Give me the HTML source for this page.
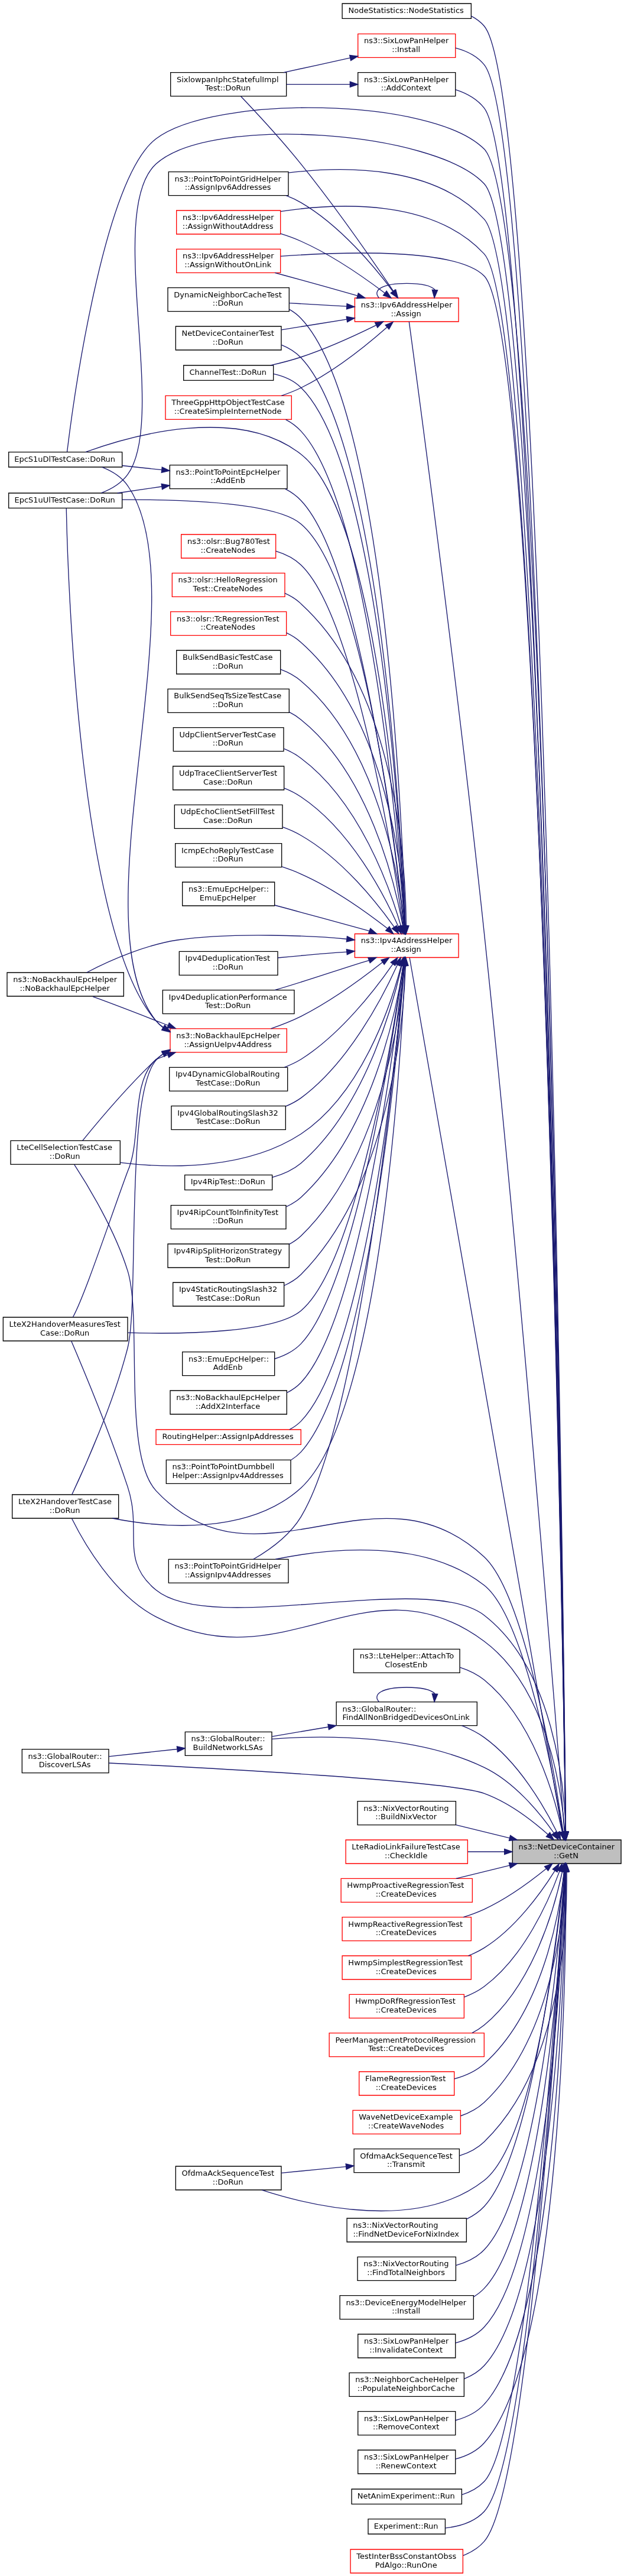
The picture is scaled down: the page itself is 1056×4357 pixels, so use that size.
<!DOCTYPE html>
<html><head><meta charset="utf-8"><title>ns3::NetDeviceContainer::GetN</title>
<style>
html,body{margin:0;padding:0;background:#fff;}
body{width:1056px;height:4357px;overflow:hidden;position:relative;}
svg{display:block;position:absolute;left:0;top:0;will-change:transform;}
</style></head><body>
<svg width="1057.33" height="4358.00" viewBox="0.00 0.00 793.00 3268.50">
<g id="graph0" class="graph" transform="scale(1 1) rotate(0) translate(4 3264.5)">
<polygon fill="white" stroke="none" points="-4,4 -4,-3264.5 789,-3264.5 789,4 -4,4"/>
<g id="node1" class="node">
<polygon fill="#bfbfbf" stroke="black" points="646.44,-900.5 646.44,-930.5 784.33,-930.5 784.33,-900.5 646.44,-900.5"/>
<text text-anchor="start" x="654.13" y="-918.5" font-family="DejaVu Sans,Liberation Sans,sans-serif" font-size="9.75">ns3::NetDeviceContainer</text>
<text text-anchor="middle" x="714.58" y="-907.5" font-family="DejaVu Sans,Liberation Sans,sans-serif" font-size="9.75">::GetN</text>
</g>
<g id="node2" class="node">
<polygon fill="white" stroke="black" points="430.35,-3241 430.35,-3260 594.03,-3260 594.03,-3241 430.35,-3241"/>
<text text-anchor="middle" x="511.41" y="-3248" font-family="DejaVu Sans,Liberation Sans,sans-serif" font-size="9.75">NodeStatistics::NodeStatistics</text>
</g>
<g id="edge1" class="edge">
<path fill="none" stroke="midnightblue" d="M714.08,-940.63C711.58,-1185.54 689.20,-3140.08 610.50,-3231.5 605.89,-3236.85 600.26,-3240.98 594.06,-3244.14"/>
<polygon fill="midnightblue" stroke="midnightblue" points="717.58,-940.6 714.19,-930.56 710.58,-940.53 717.58,-940.6"/>
</g>
<g id="node3" class="node">
<polygon fill="white" stroke="black" points="450.30,-3142.5 450.30,-3172.5 574.06,-3172.5 574.06,-3142.5 450.30,-3142.5"/>
<text text-anchor="start" x="457.99" y="-3160.5" font-family="DejaVu Sans,Liberation Sans,sans-serif" font-size="9.75">ns3::SixLowPanHelper</text>
<text text-anchor="middle" x="511.41" y="-3149.5" font-family="DejaVu Sans,Liberation Sans,sans-serif" font-size="9.75">::AddContext</text>
</g>
<g id="edge2" class="edge">
<path fill="none" stroke="midnightblue" d="M713.97,-940.9C710.44,-1180.51 680.90,-3036.57 610.50,-3127.5 601.50,-3139.12 588.12,-3146.35 574.12,-3150.83"/>
<polygon fill="midnightblue" stroke="midnightblue" points="717.47,-940.78 714.11,-930.73 710.47,-940.67 717.47,-940.78"/>
</g>
<g id="node5" class="node">
<polygon fill="white" stroke="red" points="446.31,-2856.5 446.31,-2886.5 578.05,-2886.5 578.05,-2856.5 446.31,-2856.5"/>
<text text-anchor="start" x="453.99" y="-2874.5" font-family="DejaVu Sans,Liberation Sans,sans-serif" font-size="9.75">ns3::Ipv6AddressHelper</text>
<text text-anchor="middle" x="511.41" y="-2863.5" font-family="DejaVu Sans,Liberation Sans,sans-serif" font-size="9.75">::Assign</text>
</g>
<g id="edge4" class="edge">
<path fill="none" stroke="midnightblue" d="M712.40,-940.68C702.85,-1064.86 659.00,-1624.41 610.50,-2081.5 577.25,-2394.82 526.02,-2776.68 515.21,-2856.46"/>
<polygon fill="midnightblue" stroke="midnightblue" points="715.90,-940.88 713.17,-930.64 708.93,-940.34 715.90,-940.88"/>
</g>
<g id="node6" class="node">
<polygon fill="white" stroke="black" points="210.00,-3016.5 210.00,-3046.5 362.00,-3046.5 362.00,-3016.5 210.00,-3016.5"/>
<text text-anchor="start" x="217.70" y="-3034.5" font-family="DejaVu Sans,Liberation Sans,sans-serif" font-size="9.75">ns3::PointToPointGridHelper</text>
<text text-anchor="middle" x="285.25" y="-3023.5" font-family="DejaVu Sans,Liberation Sans,sans-serif" font-size="9.75">::AssignIpv6Addresses</text>
</g>
<g id="edge59" class="edge">
<path fill="none" stroke="midnightblue" d="M713.97,-940.75C710.61,-1171.45 683.01,-2907.2 610.50,-2986.5 548.85,-3053.93 436.85,-3054.34 362.23,-3045.37"/>
<polygon fill="midnightblue" stroke="midnightblue" points="717.48,-940.69 714.12,-930.64 710.48,-940.59 717.48,-940.69"/>
</g>
<g id="node7" class="node">
<polygon fill="white" stroke="red" points="220.00,-2967.5 220.00,-2997.5 352.00,-2997.5 352.00,-2967.5 220.00,-2967.5"/>
<text text-anchor="start" x="227.70" y="-2985.5" font-family="DejaVu Sans,Liberation Sans,sans-serif" font-size="9.75">ns3::Ipv6AddressHelper</text>
<text text-anchor="middle" x="285.25" y="-2974.5" font-family="DejaVu Sans,Liberation Sans,sans-serif" font-size="9.75">::AssignWithoutAddress</text>
</g>
<g id="edge60" class="edge">
<path fill="none" stroke="midnightblue" d="M713.95,-940.91C710.44,-1169.52 682.02,-2865.54 610.50,-2942.5 545.64,-3012.3 426.37,-3007.63 352.20,-2996.23"/>
<polygon fill="midnightblue" stroke="midnightblue" points="717.46,-940.65 714.11,-930.6 710.46,-940.54 717.46,-940.65"/>
</g>
<g id="node8" class="node">
<polygon fill="white" stroke="red" points="220.00,-2918.5 220.00,-2948.5 352.00,-2948.5 352.00,-2918.5 220.00,-2918.5"/>
<text text-anchor="start" x="227.70" y="-2936.5" font-family="DejaVu Sans,Liberation Sans,sans-serif" font-size="9.75">ns3::Ipv6AddressHelper</text>
<text text-anchor="middle" x="285.25" y="-2925.5" font-family="DejaVu Sans,Liberation Sans,sans-serif" font-size="9.75">::AssignWithoutOnLink</text>
</g>
<g id="edge61" class="edge">
<path fill="none" stroke="midnightblue" d="M713.97,-940.94C710.60,-1168.05 683.43,-2840.97 610.50,-2914.5 575.66,-2949.63 436.26,-2945.48 352.27,-2939.42"/>
<polygon fill="midnightblue" stroke="midnightblue" points="717.47,-940.74 714.12,-930.69 710.47,-940.63 717.47,-940.74"/>
</g>
<g id="node13" class="node">
<polygon fill="white" stroke="red" points="446.31,-2049.90 446.31,-2079.90 578.05,-2079.90 578.05,-2049.90 446.31,-2049.90"/>
<text text-anchor="start" x="453.99" y="-2067.90" font-family="DejaVu Sans,Liberation Sans,sans-serif" font-size="9.75">ns3::Ipv4AddressHelper</text>
<text text-anchor="middle" x="511.41" y="-2056.90" font-family="DejaVu Sans,Liberation Sans,sans-serif" font-size="9.75">::Assign</text>
</g>
<g id="edge14" class="edge">
<path fill="none" stroke="midnightblue" d="M709.87,-940.78C682.48,-1096.32 537.41,-1925.59 515.85,-2049.69"/>
<polygon fill="midnightblue" stroke="midnightblue" points="713.34,-941.22 711.63,-930.77 706.46,-940.01 713.34,-941.22"/>
</g>
<g id="node18" class="node">
<polygon fill="white" stroke="black" points="7.00,-2672 7.00,-2691 151.00,-2691 151.00,-2672 7.00,-2672"/>
<text text-anchor="middle" x="78.25" y="-2679" font-family="DejaVu Sans,Liberation Sans,sans-serif" font-size="9.75">EpcS1uDlTestCase::DoRun</text>
</g>
<g id="edge75" class="edge">
<path fill="none" stroke="midnightblue" d="M714.07,-940.78C711.53,-1177.32 689.48,-2995.78 610.50,-3075.5 545.30,-3141.31 267.87,-3144.52 194.00,-3088.5 126.62,-3037.4 88.16,-2748.36 81.16,-2691.29"/>
<polygon fill="midnightblue" stroke="midnightblue" points="717.57,-940.76 714.18,-930.73 710.57,-940.69 717.57,-940.76"/>
</g>
<g id="node19" class="node">
<polygon fill="white" stroke="black" points="7.00,-2620 7.00,-2639 151.00,-2639 151.00,-2620 7.00,-2620"/>
<text text-anchor="middle" x="78.25" y="-2627" font-family="DejaVu Sans,Liberation Sans,sans-serif" font-size="9.75">EpcS1uUlTestCase::DoRun</text>
</g>
<g id="edge76" class="edge">
<path fill="none" stroke="midnightblue" d="M714.02,-940.95C711.01,-1175.33 685.82,-2951.56 610.50,-3031.5 546.89,-3099.01 262.56,-3119.09 194.00,-3056.5 129.06,-2997.23 209.86,-2733.5 158.00,-2662.5 149.85,-2651.34 137.17,-2643.92 124.38,-2639.01"/>
<polygon fill="midnightblue" stroke="midnightblue" points="717.52,-940.73 714.15,-930.69 710.52,-940.64 717.52,-940.73"/>
</g>
<g id="node23" class="node">
<polygon fill="white" stroke="black" points="210.00,-1256.5 210.00,-1286.5 362.00,-1286.5 362.00,-1256.5 210.00,-1256.5"/>
<text text-anchor="start" x="217.70" y="-1274.5" font-family="DejaVu Sans,Liberation Sans,sans-serif" font-size="9.75">ns3::PointToPointGridHelper</text>
<text text-anchor="middle" x="285.25" y="-1263.5" font-family="DejaVu Sans,Liberation Sans,sans-serif" font-size="9.75">::AssignIpv4Addresses</text>
</g>
<g id="edge58" class="edge">
<path fill="none" stroke="midnightblue" d="M710.34,-940.74C698.48,-1012.29 661.13,-1213.83 610.50,-1253.5 534.87,-1312.77 416.28,-1300.99 345.65,-1286.56"/>
<polygon fill="midnightblue" stroke="midnightblue" points="713.80,-941.22 711.96,-930.79 706.90,-940.1 713.80,-941.22"/>
</g>
<g id="node25" class="node">
<polygon fill="white" stroke="black" points="9.50,-1787.5 9.50,-1817.5 148.50,-1817.5 148.50,-1787.5 9.50,-1787.5"/>
<text text-anchor="start" x="17.20" y="-1805.5" font-family="DejaVu Sans,Liberation Sans,sans-serif" font-size="9.75">LteCellSelectionTestCase</text>
<text text-anchor="middle" x="78.25" y="-1794.5" font-family="DejaVu Sans,Liberation Sans,sans-serif" font-size="9.75">::DoRun</text>
</g>
<g id="edge77" class="edge">
<path fill="none" stroke="midnightblue" d="M710.74,-940.97C699.51,-1017.15 662.62,-1240.94 610.50,-1289.5 472.31,-1418.25 322.89,-1235.19 194.00,-1373.5 151.38,-1419.23 176.71,-1592.85 158.00,-1652.5 141.57,-1704.87 107.53,-1760.77 90.36,-1787.1"/>
<polygon fill="midnightblue" stroke="midnightblue" points="714.24,-941.24 712.21,-930.84 707.32,-940.24 714.24,-941.24"/>
</g>
<g id="node26" class="node">
<polygon fill="white" stroke="black" points="0.00,-1563.53 0.00,-1593.53 158.00,-1593.53 158.00,-1563.53 0.00,-1563.53"/>
<text text-anchor="start" x="7.70" y="-1581.53" font-family="DejaVu Sans,Liberation Sans,sans-serif" font-size="9.75">LteX2HandoverMeasuresTest</text>
<text text-anchor="middle" x="78.25" y="-1570.53" font-family="DejaVu Sans,Liberation Sans,sans-serif" font-size="9.75">Case::DoRun</text>
</g>
<g id="edge78" class="edge">
<path fill="none" stroke="midnightblue" d="M714.17,-940.85C712.28,-1000.06 698.52,-1147.51 610.50,-1215.50 537.02,-1272.25 265.70,-1188.37 194.00,-1247.50 147.42,-1285.92 177.00,-1321.18 158.00,-1378.50 134.73,-1448.72 100.65,-1530.29 86.52,-1563.39"/>
<polygon fill="midnightblue" stroke="midnightblue" points="717.68,-940.63 714.40,-930.55 710.68,-940.47 717.68,-940.63"/>
</g>
<g id="node27" class="node">
<polygon fill="white" stroke="black" points="11.50,-1338.5 11.50,-1368.5 146.50,-1368.5 146.50,-1338.5 11.50,-1338.5"/>
<text text-anchor="start" x="19.20" y="-1356.5" font-family="DejaVu Sans,Liberation Sans,sans-serif" font-size="9.75">LteX2HandoverTestCase</text>
<text text-anchor="middle" x="78.25" y="-1345.5" font-family="DejaVu Sans,Liberation Sans,sans-serif" font-size="9.75">::DoRun</text>
</g>
<g id="edge79" class="edge">
<path fill="none" stroke="midnightblue" d="M712.98,-940.72C708.59,-995.2 689.89,-1123.69 610.50,-1182.5 461.36,-1293.01 358.77,-1127.55 194.00,-1213.5 139.81,-1241.77 102.03,-1308.2 87.10,-1338.26"/>
<polygon fill="midnightblue" stroke="midnightblue" points="716.49,-940.79 713.70,-930.56 709.50,-940.29 716.49,-940.79"/>
</g>
<g id="node45" class="node">
<polygon fill="white" stroke="black" points="444.82,-1142.5 444.82,-1172.5 579.55,-1172.5 579.55,-1142.5 444.82,-1142.5"/>
<text text-anchor="start" x="452.50" y="-1160.5" font-family="DejaVu Sans,Liberation Sans,sans-serif" font-size="9.75">ns3::LteHelper::AttachTo</text>
<text text-anchor="middle" x="511.41" y="-1149.5" font-family="DejaVu Sans,Liberation Sans,sans-serif" font-size="9.75">ClosestEnb</text>
</g>
<g id="edge62" class="edge">
<path fill="none" stroke="midnightblue" d="M709.66,-940.62C699.83,-986.29 672.56,-1082.87 610.50,-1133.5 601.59,-1140.77 590.81,-1145.88 579.71,-1149.47"/>
<polygon fill="midnightblue" stroke="midnightblue" points="713.12,-941.17 711.70,-930.67 706.27,-939.76 713.12,-941.17"/>
</g>
<g id="node46" class="node">
<polygon fill="white" stroke="black" points="231.00,-1037.5 231.00,-1067.5 341.00,-1067.5 341.00,-1037.5 231.00,-1037.5"/>
<text text-anchor="start" x="238.70" y="-1055.5" font-family="DejaVu Sans,Liberation Sans,sans-serif" font-size="9.75">ns3::GlobalRouter::</text>
<text text-anchor="middle" x="285.25" y="-1044.5" font-family="DejaVu Sans,Liberation Sans,sans-serif" font-size="9.75">BuildNetworkLSAs</text>
</g>
<g id="edge63" class="edge">
<path fill="none" stroke="midnightblue" d="M699.05,-939.23C681.19,-964.71 649.12,-1004.01 610.50,-1022.5 523.23,-1064.29 407.79,-1063.55 341.03,-1058.51"/>
<polygon fill="midnightblue" stroke="midnightblue" points="702.02,-941.09 704.76,-930.86 696.25,-937.14 702.02,-941.09"/>
</g>
<g id="node47" class="node">
<polygon fill="white" stroke="black" points="24.00,-1015.5 24.00,-1045.5 134.00,-1045.5 134.00,-1015.5 24.00,-1015.5"/>
<text text-anchor="start" x="31.70" y="-1033.5" font-family="DejaVu Sans,Liberation Sans,sans-serif" font-size="9.75">ns3::GlobalRouter::</text>
<text text-anchor="middle" x="78.25" y="-1022.5" font-family="DejaVu Sans,Liberation Sans,sans-serif" font-size="9.75">DiscoverLSAs</text>
</g>
<g id="edge74" class="edge">
<path fill="none" stroke="midnightblue" d="M691.48,-937.43C671.75,-954.9 641.58,-978.22 610.50,-989.5 566.56,-1005.45 260.36,-1021.82 134.11,-1027.97"/>
<polygon fill="midnightblue" stroke="midnightblue" points="693.96,-939.9 699.02,-930.6 689.27,-934.71 693.96,-939.9"/>
</g>
<g id="node48" class="node">
<polygon fill="white" stroke="black" points="449.80,-949.5 449.80,-979.5 574.56,-979.5 574.56,-949.5 449.80,-949.5"/>
<text text-anchor="start" x="457.49" y="-967.5" font-family="DejaVu Sans,Liberation Sans,sans-serif" font-size="9.75">ns3::NixVectorRouting</text>
<text text-anchor="middle" x="511.41" y="-956.5" font-family="DejaVu Sans,Liberation Sans,sans-serif" font-size="9.75">::BuildNixVector</text>
</g>
<g id="edge65" class="edge">
<path fill="none" stroke="midnightblue" d="M642.88,-932.9C620.62,-938.32 596.28,-944.25 574.77,-949.49"/>
<polygon fill="midnightblue" stroke="midnightblue" points="643.72,-936.3 652.60,-930.53 642.08,-929.5 643.72,-936.3"/>
</g>
<g id="node49" class="node">
<polygon fill="white" stroke="red" points="434.84,-900.5 434.84,-930.5 589.53,-930.5 589.53,-900.5 434.84,-900.5"/>
<text text-anchor="start" x="442.52" y="-918.5" font-family="DejaVu Sans,Liberation Sans,sans-serif" font-size="9.75">LteRadioLinkFailureTestCase</text>
<text text-anchor="middle" x="511.41" y="-907.5" font-family="DejaVu Sans,Liberation Sans,sans-serif" font-size="9.75">::CheckIdle</text>
</g>
<g id="edge66" class="edge">
<path fill="none" stroke="midnightblue" d="M635.88,-915.5C620.75,-915.5 604.92,-915.5 589.85,-915.5"/>
<polygon fill="midnightblue" stroke="midnightblue" points="636.24,-919 646.22,-915.5 636.24,-912 636.24,-919"/>
</g>
<g id="node50" class="node">
<polygon fill="white" stroke="red" points="428.85,-851.5 428.85,-881.5 595.52,-881.5 595.52,-851.5 428.85,-851.5"/>
<text text-anchor="start" x="436.53" y="-869.5" font-family="DejaVu Sans,Liberation Sans,sans-serif" font-size="9.75">HwmpProactiveRegressionTest</text>
<text text-anchor="middle" x="511.41" y="-858.5" font-family="DejaVu Sans,Liberation Sans,sans-serif" font-size="9.75">::CreateDevices</text>
</g>
<g id="edge67" class="edge">
<path fill="none" stroke="midnightblue" d="M642.88,-898.1C620.62,-892.68 596.28,-886.75 574.77,-881.51"/>
<polygon fill="midnightblue" stroke="midnightblue" points="642.08,-901.5 652.60,-900.47 643.72,-894.7 642.08,-901.5"/>
</g>
<g id="node51" class="node">
<polygon fill="white" stroke="red" points="430.35,-802.5 430.35,-832.5 594.03,-832.5 594.03,-802.5 430.35,-802.5"/>
<text text-anchor="start" x="438.03" y="-820.5" font-family="DejaVu Sans,Liberation Sans,sans-serif" font-size="9.75">HwmpReactiveRegressionTest</text>
<text text-anchor="middle" x="511.41" y="-809.5" font-family="DejaVu Sans,Liberation Sans,sans-serif" font-size="9.75">::CreateDevices</text>
</g>
<g id="edge68" class="edge">
<path fill="none" stroke="midnightblue" d="M689.43,-894.08C669.33,-877.79 639.68,-855.96 610.50,-842.5 602.18,-838.66 593.18,-835.35 584.12,-832.5"/>
<polygon fill="midnightblue" stroke="midnightblue" points="687.23,-896.8 697.17,-900.46 691.67,-891.4 687.23,-896.8"/>
</g>
<g id="node52" class="node">
<polygon fill="white" stroke="red" points="430.35,-753.5 430.35,-783.5 594.03,-783.5 594.03,-753.5 430.35,-753.5"/>
<text text-anchor="start" x="438.03" y="-771.5" font-family="DejaVu Sans,Liberation Sans,sans-serif" font-size="9.75">HwmpSimplestRegressionTest</text>
<text text-anchor="middle" x="511.41" y="-760.5" font-family="DejaVu Sans,Liberation Sans,sans-serif" font-size="9.75">::CreateDevices</text>
</g>
<g id="edge69" class="edge">
<path fill="none" stroke="midnightblue" d="M700.28,-891.39C682.79,-863.54 650.31,-818.39 610.50,-793.5 604.28,-789.61 597.49,-786.33 590.47,-783.56"/>
<polygon fill="midnightblue" stroke="midnightblue" points="697.42,-893.42 705.62,-900.11 703.37,-889.76 697.42,-893.42"/>
</g>
<g id="node53" class="node">
<polygon fill="white" stroke="red" points="439.33,-704.5 439.33,-734.5 585.04,-734.5 585.04,-704.5 439.33,-704.5"/>
<text text-anchor="start" x="447.01" y="-722.5" font-family="DejaVu Sans,Liberation Sans,sans-serif" font-size="9.75">HwmpDoRfRegressionTest</text>
<text text-anchor="middle" x="511.41" y="-711.5" font-family="DejaVu Sans,Liberation Sans,sans-serif" font-size="9.75">::CreateDevices</text>
</g>
<g id="edge70" class="edge">
<path fill="none" stroke="midnightblue" d="M706.21,-890.84C692.58,-853.33 661.45,-782.32 610.50,-744.5 602.93,-738.88 594.23,-734.52 585.19,-731.14"/>
<polygon fill="midnightblue" stroke="midnightblue" points="702.99,-892.2 709.59,-900.47 709.58,-889.88 702.99,-892.2"/>
</g>
<g id="node54" class="node">
<polygon fill="white" stroke="red" points="413.89,-655.5 413.89,-685.5 610.50,-685.5 610.50,-655.5 413.89,-655.5"/>
<text text-anchor="start" x="421.57" y="-673.5" font-family="DejaVu Sans,Liberation Sans,sans-serif" font-size="9.75">PeerManagementProtocolRegression</text>
<text text-anchor="middle" x="511.41" y="-662.5" font-family="DejaVu Sans,Liberation Sans,sans-serif" font-size="9.75">Test::CreateDevices</text>
</g>
<g id="edge71" class="edge">
<path fill="none" stroke="midnightblue" d="M709.68,-890.21C699.89,-844.23 672.68,-746.92 610.50,-695.5 605.79,-691.61 600.55,-688.31 595.02,-685.52"/>
<polygon fill="midnightblue" stroke="midnightblue" points="706.31,-891.13 711.71,-900.23 713.16,-889.74 706.31,-891.13"/>
</g>
<g id="node55" class="node">
<polygon fill="white" stroke="red" points="451.80,-606.5 451.80,-636.5 572.56,-636.5 572.56,-606.5 451.80,-606.5"/>
<text text-anchor="start" x="459.48" y="-624.5" font-family="DejaVu Sans,Liberation Sans,sans-serif" font-size="9.75">FlameRegressionTest</text>
<text text-anchor="middle" x="511.41" y="-613.5" font-family="DejaVu Sans,Liberation Sans,sans-serif" font-size="9.75">::CreateDevices</text>
</g>
<g id="edge72" class="edge">
<path fill="none" stroke="midnightblue" d="M712.13,-890.37C706.11,-837.09 684.44,-712.31 610.50,-646.5 599.94,-637.1 586.31,-631.14 572.62,-627.4"/>
<polygon fill="midnightblue" stroke="midnightblue" points="708.66,-890.73 713.17,-900.32 715.62,-890.01 708.66,-890.73"/>
</g>
<g id="node56" class="node">
<polygon fill="white" stroke="red" points="443.82,-557.5 443.82,-587.5 580.55,-587.5 580.55,-557.5 443.82,-557.5"/>
<text text-anchor="start" x="451.50" y="-575.5" font-family="DejaVu Sans,Liberation Sans,sans-serif" font-size="9.75">WaveNetDeviceExample</text>
<text text-anchor="middle" x="511.41" y="-564.5" font-family="DejaVu Sans,Liberation Sans,sans-serif" font-size="9.75">::CreateWaveNodes</text>
</g>
<g id="edge73" class="edge">
<path fill="none" stroke="midnightblue" d="M713.84,-890.09C711.26,-829.94 696.15,-677.88 610.50,-597.5 602.16,-589.67 591.72,-584.22 580.79,-580.43"/>
<polygon fill="midnightblue" stroke="midnightblue" points="710.35,-890.34 714.19,-900.21 717.35,-890.1 710.35,-890.34"/>
</g>
<g id="node57" class="node">
<polygon fill="white" stroke="black" points="219.00,-486.5 219.00,-516.5 353.00,-516.5 353.00,-486.5 219.00,-486.5"/>
<text text-anchor="start" x="226.70" y="-504.5" font-family="DejaVu Sans,Liberation Sans,sans-serif" font-size="9.75">OfdmaAckSequenceTest</text>
<text text-anchor="middle" x="285.25" y="-493.5" font-family="DejaVu Sans,Liberation Sans,sans-serif" font-size="9.75">::DoRun</text>
</g>
<g id="edge80" class="edge">
<path fill="none" stroke="midnightblue" d="M712.03,-890.47C703.90,-808.09 673.55,-547.85 610.50,-498.5 528.30,-434.17 395.16,-464.77 328.20,-486.41"/>
<polygon fill="midnightblue" stroke="midnightblue" points="708.56,-890.84 712.99,-900.45 715.52,-890.17 708.56,-890.84"/>
</g>
<g id="node58" class="node">
<polygon fill="white" stroke="black" points="422.87,-1075.5 422.87,-1105.5 601.51,-1105.5 601.51,-1075.5 422.87,-1075.5"/>
<text text-anchor="start" x="430.55" y="-1093.5" font-family="DejaVu Sans,Liberation Sans,sans-serif" font-size="9.75">ns3::GlobalRouter::</text>
<text text-anchor="middle" x="511.41" y="-1082.5" font-family="DejaVu Sans,Liberation Sans,sans-serif" font-size="9.75">FindAllNonBridgedDevicesOnLink</text>
</g>
<g id="edge81" class="edge">
<path fill="none" stroke="midnightblue" d="M703.15,-939.91C687.12,-972.19 654.65,-1028.7 610.50,-1060.5 601.96,-1066.65 592.13,-1071.57 582.08,-1075.48"/>
<polygon fill="midnightblue" stroke="midnightblue" points="706.38,-941.25 707.58,-930.72 700.08,-938.2 706.38,-941.25"/>
</g>
<g id="node59" class="node">
<polygon fill="white" stroke="black" points="436.33,-420.5 436.33,-450.5 588.04,-450.5 588.04,-420.5 436.33,-420.5"/>
<text text-anchor="start" x="444.02" y="-438.5" font-family="DejaVu Sans,Liberation Sans,sans-serif" font-size="9.75">ns3::NixVectorRouting</text>
<text text-anchor="middle" x="511.41" y="-427.5" font-family="DejaVu Sans,Liberation Sans,sans-serif" font-size="9.75">::FindNetDeviceForNixIndex</text>
</g>
<g id="edge84" class="edge">
<path fill="none" stroke="midnightblue" d="M711.77,-890.09C702.69,-804.52 669.29,-528.75 610.50,-465.5 604.23,-458.76 596.50,-453.52 588.15,-449.45"/>
<polygon fill="midnightblue" stroke="midnightblue" points="708.32,-890.62 712.83,-900.21 715.27,-889.9 708.32,-890.62"/>
</g>
<g id="node60" class="node">
<polygon fill="white" stroke="black" points="449.80,-371.5 449.80,-401.5 574.56,-401.5 574.56,-371.5 449.80,-371.5"/>
<text text-anchor="start" x="457.49" y="-389.5" font-family="DejaVu Sans,Liberation Sans,sans-serif" font-size="9.75">ns3::NixVectorRouting</text>
<text text-anchor="middle" x="511.41" y="-378.5" font-family="DejaVu Sans,Liberation Sans,sans-serif" font-size="9.75">::FindTotalNeighbors</text>
</g>
<g id="edge85" class="edge">
<path fill="none" stroke="midnightblue" d="M712.62,-890.24C705.88,-797.96 678.09,-480.84 610.50,-410.5 600.97,-400.58 588.05,-394.49 574.74,-390.82"/>
<polygon fill="midnightblue" stroke="midnightblue" points="709.15,-890.62 713.34,-900.34 716.12,-890.12 709.15,-890.62"/>
</g>
<g id="node61" class="node">
<polygon fill="white" stroke="black" points="427.36,-322.5 427.36,-352.5 597.02,-352.5 597.02,-322.5 427.36,-322.5"/>
<text text-anchor="start" x="435.04" y="-340.5" font-family="DejaVu Sans,Liberation Sans,sans-serif" font-size="9.75">ns3::DeviceEnergyModelHelper</text>
<text text-anchor="middle" x="511.41" y="-329.5" font-family="DejaVu Sans,Liberation Sans,sans-serif" font-size="9.75">::Install</text>
</g>
<g id="edge86" class="edge">
<path fill="none" stroke="midnightblue" d="M713.11,-890.06C707.90,-791.93 684.27,-439.63 610.50,-361.5 606.56,-357.32 602.00,-353.82 597.08,-350.89"/>
<polygon fill="midnightblue" stroke="midnightblue" points="709.63,-890.44 713.63,-900.24 716.62,-890.08 709.63,-890.44"/>
</g>
<g id="node62" class="node">
<polygon fill="white" stroke="red" points="450.30,-3191.5 450.30,-3221.5 574.06,-3221.5 574.06,-3191.5 450.30,-3191.5"/>
<text text-anchor="start" x="457.99" y="-3209.5" font-family="DejaVu Sans,Liberation Sans,sans-serif" font-size="9.75">ns3::SixLowPanHelper</text>
<text text-anchor="middle" x="511.41" y="-3198.5" font-family="DejaVu Sans,Liberation Sans,sans-serif" font-size="9.75">::Install</text>
</g>
<g id="edge87" class="edge">
<path fill="none" stroke="midnightblue" d="M714.03,-940.81C711.05,-1183.46 685.30,-3091.28 610.50,-3182.5 601.38,-3193.61 588.04,-3200.06 574.13,-3203.68"/>
<polygon fill="midnightblue" stroke="midnightblue" points="717.53,-940.57 714.15,-930.52 710.53,-940.48 717.53,-940.57"/>
</g>
<g id="node63" class="node">
<polygon fill="white" stroke="black" points="450.30,-273.5 450.30,-303.5 574.06,-303.5 574.06,-273.5 450.30,-273.5"/>
<text text-anchor="start" x="457.99" y="-291.5" font-family="DejaVu Sans,Liberation Sans,sans-serif" font-size="9.75">ns3::SixLowPanHelper</text>
<text text-anchor="middle" x="511.41" y="-280.5" font-family="DejaVu Sans,Liberation Sans,sans-serif" font-size="9.75">::InvalidateContext</text>
</g>
<g id="edge89" class="edge">
<path fill="none" stroke="midnightblue" d="M713.54,-890.19C709.79,-786.88 690.55,-398.55 610.50,-312.5 600.95,-302.23 587.78,-296.05 574.21,-292.4"/>
<polygon fill="midnightblue" stroke="midnightblue" points="710.05,-890.45 713.89,-900.32 717.04,-890.21 710.05,-890.45"/>
</g>
<g id="node64" class="node">
<polygon fill="white" stroke="black" points="439.33,-224.5 439.33,-254.5 585.04,-254.5 585.04,-224.5 439.33,-224.5"/>
<text text-anchor="start" x="447.01" y="-242.5" font-family="DejaVu Sans,Liberation Sans,sans-serif" font-size="9.75">ns3::NeighborCacheHelper</text>
<text text-anchor="middle" x="511.41" y="-231.5" font-family="DejaVu Sans,Liberation Sans,sans-serif" font-size="9.75">::PopulateNeighborCache</text>
</g>
<g id="edge90" class="edge">
<path fill="none" stroke="midnightblue" d="M713.90,-890.26C711.54,-781.9 696.84,-357.49 610.50,-263.5 603.66,-256.06 594.94,-250.76 585.51,-247.01"/>
<polygon fill="midnightblue" stroke="midnightblue" points="710.40,-890.35 714.10,-900.28 717.40,-890.21 710.40,-890.35"/>
</g>
<g id="node65" class="node">
<polygon fill="white" stroke="black" points="450.30,-175.5 450.30,-205.5 574.06,-205.5 574.06,-175.5 450.30,-175.5"/>
<text text-anchor="start" x="457.99" y="-193.5" font-family="DejaVu Sans,Liberation Sans,sans-serif" font-size="9.75">ns3::SixLowPanHelper</text>
<text text-anchor="middle" x="511.41" y="-182.5" font-family="DejaVu Sans,Liberation Sans,sans-serif" font-size="9.75">::RemoveContext</text>
</g>
<g id="edge91" class="edge">
<path fill="none" stroke="midnightblue" d="M714.21,-890.22C713.15,-776.84 703.11,-316.43 610.50,-214.5 601.02,-204.06 587.79,-197.82 574.13,-194.17"/>
<polygon fill="midnightblue" stroke="midnightblue" points="710.71,-890.39 714.29,-900.36 717.71,-890.33 710.71,-890.39"/>
</g>
<g id="node66" class="node">
<polygon fill="white" stroke="black" points="450.30,-126.5 450.30,-156.5 574.06,-156.5 574.06,-126.5 450.30,-126.5"/>
<text text-anchor="start" x="457.99" y="-144.5" font-family="DejaVu Sans,Liberation Sans,sans-serif" font-size="9.75">ns3::SixLowPanHelper</text>
<text text-anchor="middle" x="511.41" y="-133.5" font-family="DejaVu Sans,Liberation Sans,sans-serif" font-size="9.75">::RenewContext</text>
</g>
<g id="edge92" class="edge">
<path fill="none" stroke="midnightblue" d="M714.48,-889.99C714.65,-771.43 709.34,-275.34 610.50,-165.5 601.07,-155.01 587.85,-148.76 574.20,-145.11"/>
<polygon fill="midnightblue" stroke="midnightblue" points="710.98,-890.25 714.45,-900.26 717.98,-890.27 710.98,-890.25"/>
</g>
<g id="node67" class="node">
<polygon fill="white" stroke="black" points="442.32,-88 442.32,-107 582.05,-107 582.05,-88 442.32,-88"/>
<text text-anchor="middle" x="511.41" y="-95" font-family="DejaVu Sans,Liberation Sans,sans-serif" font-size="9.75">NetAnimExperiment::Run</text>
</g>
<g id="edge93" class="edge">
<path fill="none" stroke="midnightblue" d="M712.79,-890.35C704.64,-761.01 664.89,-174.53 610.50,-116.5 602.84,-108.33 592.80,-103.08 582.07,-99.8"/>
<polygon fill="midnightblue" stroke="midnightblue" points="709.31,-890.71 713.42,-900.47 716.29,-890.27 709.31,-890.71"/>
</g>
<g id="node68" class="node">
<polygon fill="white" stroke="black" points="463.27,-50 463.27,-69 561.08,-69 561.08,-50 463.27,-50"/>
<text text-anchor="middle" x="511.41" y="-57" font-family="DejaVu Sans,Liberation Sans,sans-serif" font-size="9.75">Experiment::Run</text>
</g>
<g id="edge94" class="edge">
<path fill="none" stroke="midnightblue" d="M712.95,-890.42C705.40,-757.56 667.44,-139.6 610.50,-78.5 597.99,-65.07 579.04,-59.53 561.18,-57.63"/>
<polygon fill="midnightblue" stroke="midnightblue" points="709.45,-890.67 713.51,-900.45 716.44,-890.27 709.45,-890.67"/>
</g>
<g id="node69" class="node">
<polygon fill="white" stroke="red" points="440.82,-0.5 440.82,-30.5 583.54,-30.5 583.54,-0.5 440.82,-0.5"/>
<text text-anchor="start" x="448.51" y="-18.5" font-family="DejaVu Sans,Liberation Sans,sans-serif" font-size="9.75">TestInterBssConstantObss</text>
<text text-anchor="middle" x="511.41" y="-7.5" font-family="DejaVu Sans,Liberation Sans,sans-serif" font-size="9.75">PdAlgo::RunOne</text>
</g>
<g id="edge95" class="edge">
<path fill="none" stroke="midnightblue" d="M712.99,-889.79C705.59,-752.16 667.98,-106.28 610.50,-40.5 603.37,-32.35 594.00,-26.68 583.86,-22.77"/>
<polygon fill="midnightblue" stroke="midnightblue" points="709.51,-890.37 713.54,-900.17 716.50,-890 709.51,-890.37"/>
</g>
<g id="node70" class="node">
<polygon fill="white" stroke="black" points="445.31,-508.5 445.31,-538.5 579.05,-538.5 579.05,-508.5 445.31,-508.5"/>
<text text-anchor="start" x="453.00" y="-526.5" font-family="DejaVu Sans,Liberation Sans,sans-serif" font-size="9.75">OfdmaAckSequenceTest</text>
<text text-anchor="middle" x="511.41" y="-515.5" font-family="DejaVu Sans,Liberation Sans,sans-serif" font-size="9.75">::Transmit</text>
</g>
<g id="edge96" class="edge">
<path fill="none" stroke="midnightblue" d="M715.23,-889.82C716.09,-823.05 708.72,-642.58 610.50,-547.5 601.86,-539.14 590.81,-533.54 579.27,-529.83"/>
<polygon fill="midnightblue" stroke="midnightblue" points="711.72,-890.16 715.01,-900.23 718.72,-890.31 711.72,-890.16"/>
</g>
<g id="node4" class="node">
<polygon fill="white" stroke="black" points="212.50,-3142.5 212.50,-3172.5 359.50,-3172.5 359.50,-3142.5 212.50,-3142.5"/>
<text text-anchor="start" x="220.20" y="-3160.5" font-family="DejaVu Sans,Liberation Sans,sans-serif" font-size="9.75">SixlowpanIphcStatefulImpl</text>
<text text-anchor="middle" x="285.25" y="-3149.5" font-family="DejaVu Sans,Liberation Sans,sans-serif" font-size="9.75">Test::DoRun</text>
</g>
<g id="edge3" class="edge">
<path fill="none" stroke="midnightblue" d="M440.21,-3157.5C414.50,-3157.5 385.45,-3157.5 359.60,-3157.5"/>
<polygon fill="midnightblue" stroke="midnightblue" points="440.28,-3161 450.25,-3157.5 440.28,-3154 440.28,-3161"/>
</g>
<g id="edge13" class="edge">
<path fill="none" stroke="midnightblue" d="M495.38,-2895.11C471.21,-2930.87 423.06,-3000.53 377.97,-3056.5 352.50,-3088.09 320.19,-3122.82 301.73,-3142.22"/>
<polygon fill="midnightblue" stroke="midnightblue" points="498.30,-2897.02 501.00,-2886.78 492.52,-2893.1 498.30,-2897.02"/>
</g>
<g id="edge5" class="edge">
<path fill="none" stroke="midnightblue" d="M547.99,-2896.96C543.55,-2901.68 531.60,-2905 512.16,-2905 480.28,-2905 468.57,-2896.06 477.04,-2886.66"/>
<polygon fill="midnightblue" stroke="midnightblue" points="551.46,-2896.4 547.30,-2886.66 544.49,-2896.87 551.46,-2896.4"/>
</g>
<g id="edge6" class="edge">
<path fill="none" stroke="midnightblue" d="M494.50,-2895.13C471.69,-2925.69 427.84,-2978.46 377.97,-3007.5 372.05,-3010.95 365.63,-3013.91 359.02,-3016.45"/>
<polygon fill="midnightblue" stroke="midnightblue" points="497.54,-2896.9 500.63,-2886.77 491.91,-2892.76 497.54,-2896.9"/>
</g>
<g id="edge7" class="edge">
<path fill="none" stroke="midnightblue" d="M484.25,-2892.82C458.35,-2912.4 417.41,-2940.96 377.97,-2958.5 369.78,-2962.15 360.90,-2965.33 352.01,-2968.09"/>
<polygon fill="midnightblue" stroke="midnightblue" points="486.62,-2895.4 492.44,-2886.55 482.38,-2889.84 486.62,-2895.4"/>
</g>
<g id="edge8" class="edge">
<path fill="none" stroke="midnightblue" d="M449.59,-2889.34C427.09,-2895.79 401.39,-2903.06 377.97,-2909.5 367.27,-2912.44 355.84,-2915.51 344.81,-2918.43"/>
<polygon fill="midnightblue" stroke="midnightblue" points="450.73,-2892.65 459.36,-2886.53 448.81,-2885.92 450.73,-2892.65"/>
</g>
<g id="node9" class="node">
<polygon fill="white" stroke="red" points="206.00,-2732.5 206.00,-2762.5 365.99,-2762.5 365.99,-2732.5 206.00,-2732.5"/>
<text text-anchor="start" x="213.70" y="-2750.5" font-family="DejaVu Sans,Liberation Sans,sans-serif" font-size="9.75">ThreeGppHttpObjectTestCase</text>
<text text-anchor="middle" x="285.25" y="-2739.5" font-family="DejaVu Sans,Liberation Sans,sans-serif" font-size="9.75">::CreateSimpleInternetNode</text>
</g>
<g id="edge9" class="edge">
<path fill="none" stroke="midnightblue" d="M487.21,-2849.34C461.85,-2826.97 419.77,-2792.9 377.97,-2772.5 370.17,-2768.7 361.72,-2765.4 353.19,-2762.56"/>
<polygon fill="midnightblue" stroke="midnightblue" points="485.06,-2852.11 494.84,-2856.15 489.71,-2846.89 485.06,-2852.11"/>
</g>
<g id="node10" class="node">
<polygon fill="white" stroke="black" points="209.00,-2869.5 209.00,-2899.5 363.00,-2899.5 363.00,-2869.5 209.00,-2869.5"/>
<text text-anchor="start" x="216.70" y="-2887.5" font-family="DejaVu Sans,Liberation Sans,sans-serif" font-size="9.75">DynamicNeighborCacheTest</text>
<text text-anchor="middle" x="285.25" y="-2876.5" font-family="DejaVu Sans,Liberation Sans,sans-serif" font-size="9.75">::DoRun</text>
</g>
<g id="edge10" class="edge">
<path fill="none" stroke="midnightblue" d="M435.85,-2875.87C412.41,-2877.23 386.57,-2878.73 363.10,-2880.09"/>
<polygon fill="midnightblue" stroke="midnightblue" points="436.31,-2879.35 446.07,-2875.28 435.92,-2872.36 436.31,-2879.35"/>
</g>
<g id="node11" class="node">
<polygon fill="white" stroke="black" points="219.00,-2820.5 219.00,-2850.5 353.00,-2850.5 353.00,-2820.5 219.00,-2820.5"/>
<text text-anchor="start" x="226.70" y="-2838.5" font-family="DejaVu Sans,Liberation Sans,sans-serif" font-size="9.75">NetDeviceContainerTest</text>
<text text-anchor="middle" x="285.25" y="-2827.5" font-family="DejaVu Sans,Liberation Sans,sans-serif" font-size="9.75">::DoRun</text>
</g>
<g id="edge11" class="edge">
<path fill="none" stroke="midnightblue" d="M435.98,-2859.41C409.16,-2855.11 379.18,-2850.29 353.18,-2846.11"/>
<polygon fill="midnightblue" stroke="midnightblue" points="435.68,-2862.91 446.07,-2861.04 436.77,-2856 435.68,-2862.91"/>
</g>
<g id="node12" class="node">
<polygon fill="white" stroke="black" points="229.00,-2782 229.00,-2801 343.00,-2801 343.00,-2782 229.00,-2782"/>
<text text-anchor="middle" x="285.25" y="-2789" font-family="DejaVu Sans,Liberation Sans,sans-serif" font-size="9.75">ChannelTest::DoRun</text>
</g>
<g id="edge12" class="edge">
<path fill="none" stroke="midnightblue" d="M473.30,-2851.91C447.09,-2838.99 411.09,-2822.48 377.97,-2811.5 365.71,-2807.44 352.22,-2803.96 339.47,-2801.1"/>
<polygon fill="midnightblue" stroke="midnightblue" points="472.00,-2855.18 482.49,-2856.5 475.12,-2848.91 472.00,-2855.18"/>
</g>
<g id="edge35" class="edge">
<path fill="none" stroke="midnightblue" d="M509.42,-2090.02C501.36,-2197.95 464.45,-2623.96 377.97,-2717.64 372.57,-2723.67 365.91,-2728.48 358.66,-2732.34"/>
<polygon fill="midnightblue" stroke="midnightblue" points="512.90,-2090.20 510.15,-2079.97 505.94,-2089.69 512.90,-2090.20"/>
</g>
<g id="edge50" class="edge">
<path fill="none" stroke="midnightblue" d="M510.54,-2090.26C506.98,-2213.30 485.47,-2747.98 377.97,-2860.59 373.69,-2865.25 368.60,-2869.05 363.06,-2872.16"/>
<polygon fill="midnightblue" stroke="midnightblue" points="514.04,-2090.02 510.83,-2079.93 507.05,-2089.83 514.04,-2090.02"/>
</g>
<g id="edge51" class="edge">
<path fill="none" stroke="midnightblue" d="M510.22,-2090.16C505.26,-2208.12 478.57,-2705.19 377.97,-2810.71 371.25,-2818.00 362.58,-2823.20 353.25,-2826.94"/>
<polygon fill="midnightblue" stroke="midnightblue" points="513.72,-2090.04 510.63,-2079.91 506.74,-2089.76 513.72,-2090.04"/>
</g>
<g id="edge52" class="edge">
<path fill="none" stroke="midnightblue" d="M510.11,-2090.13C504.78,-2204.74 477.02,-2676.46 377.97,-2772.86 368.73,-2782.16 356.08,-2787.36 343.14,-2790.21"/>
<polygon fill="midnightblue" stroke="midnightblue" points="513.60,-2090.29 510.56,-2080.14 506.63,-2089.97 513.60,-2090.29"/>
</g>
<g id="node14" class="node">
<polygon fill="white" stroke="black" points="5.00,-2000.75 5.00,-2030.75 153.00,-2030.75 153.00,-2000.75 5.00,-2000.75"/>
<text text-anchor="start" x="12.70" y="-2018.75" font-family="DejaVu Sans,Liberation Sans,sans-serif" font-size="9.75">ns3::NoBackhaulEpcHelper</text>
<text text-anchor="middle" x="78.25" y="-2007.75" font-family="DejaVu Sans,Liberation Sans,sans-serif" font-size="9.75">::NoBackhaulEpcHelper</text>
</g>
<g id="edge15" class="edge">
<path fill="none" stroke="midnightblue" d="M435.80,-2073.31C409.89,-2076.00 379.96,-2077.50 340.00,-2078.00 300.00,-2078.50 255.00,-2077.00 221.00,-2072.00 183.50,-2066.40 138.50,-2048.00 105.90,-2030.75"/>
<polygon fill="midnightblue" stroke="midnightblue" points="436.54,-2076.75 446.07,-2072.16 435.78,-2069.79 436.54,-2076.75"/>
</g>
<g id="node15" class="node">
<polygon fill="white" stroke="black" points="215.50,-1607.58 215.50,-1637.58 356.50,-1637.58 356.50,-1607.58 215.50,-1607.58"/>
<text text-anchor="start" x="223.20" y="-1625.58" font-family="DejaVu Sans,Liberation Sans,sans-serif" font-size="9.75">Ipv4StaticRoutingSlash32</text>
<text text-anchor="middle" x="285.25" y="-1614.58" font-family="DejaVu Sans,Liberation Sans,sans-serif" font-size="9.75">TestCase::DoRun</text>
</g>
<g id="edge16" class="edge">
<path fill="none" stroke="midnightblue" d="M510.74,-2039.32C508.10,-1967.45 490.59,-1761.50 377.97,-1647.66 371.81,-1641.70 364.42,-1637.12 356.52,-1633.62"/>
<polygon fill="midnightblue" stroke="midnightblue" points="507.25,-2039.75 511.05,-2049.64 514.24,-2039.54 507.25,-2039.75"/>
</g>
<g id="node16" class="node">
<polygon fill="white" stroke="black" points="227.50,-1519.5 227.50,-1549.5 344.50,-1549.5 344.50,-1519.5 227.50,-1519.5"/>
<text text-anchor="start" x="235.20" y="-1537.5" font-family="DejaVu Sans,Liberation Sans,sans-serif" font-size="9.75">ns3::EmuEpcHelper::</text>
<text text-anchor="middle" x="285.25" y="-1526.5" font-family="DejaVu Sans,Liberation Sans,sans-serif" font-size="9.75">AddEnb</text>
</g>
<g id="edge17" class="edge">
<path fill="none" stroke="midnightblue" d="M507.70,-2039.43C494.74,-1946.53 446.37,-1631.72 377.97,-1559.85 368.98,-1550.63 357.02,-1544.63 344.74,-1540.81"/>
<polygon fill="midnightblue" stroke="midnightblue" points="504.26,-2040.06 509.10,-2049.48 511.18,-2039.09 504.26,-2040.06"/>
</g>
<g id="node17" class="node">
<polygon fill="white" stroke="black" points="211.50,-2644.5 211.50,-2674.5 360.50,-2674.5 360.50,-2644.5 211.50,-2644.5"/>
<text text-anchor="start" x="219.20" y="-2662.5" font-family="DejaVu Sans,Liberation Sans,sans-serif" font-size="9.75">ns3::PointToPointEpcHelper</text>
<text text-anchor="middle" x="285.25" y="-2651.5" font-family="DejaVu Sans,Liberation Sans,sans-serif" font-size="9.75">::AddEnb</text>
</g>
<g id="edge18" class="edge">
<path fill="none" stroke="midnightblue" d="M508.56,-2090.13C497.81,-2188.64 453.78,-2549.79 377.97,-2629.65 372.37,-2635.72 365.50,-2640.54 358.04,-2644.41"/>
<polygon fill="midnightblue" stroke="midnightblue" points="512.04,-2090.38 509.63,-2080.06 505.10,-2089.64 512.04,-2090.38"/>
</g>
<g id="edge53" class="edge">
<path fill="none" stroke="midnightblue" d="M509.87,-2090.16C503.78,-2197.38 474.17,-2613.40 377.97,-2688.32 297.38,-2751.68 160.25,-2711.13 104.58,-2691.07"/>
<polygon fill="midnightblue" stroke="midnightblue" points="513.37,-2090.12 510.43,-2079.95 506.40,-2089.74 513.37,-2090.12"/>
</g>
<g id="edge54" class="edge">
<path fill="none" stroke="midnightblue" d="M508.70,-2090.07C498.68,-2186.65 457.62,-2532.74 377.97,-2599.88 345.31,-2627.61 228.45,-2630.85 151.15,-2630.69"/>
<polygon fill="midnightblue" stroke="midnightblue" points="512.19,-2090.30 509.73,-2080.00 505.24,-2089.59 512.19,-2090.30"/>
</g>
<g id="node20" class="node">
<polygon fill="white" stroke="black" points="212.00,-1470.5 212.00,-1500.5 360.00,-1500.5 360.00,-1470.5 212.00,-1470.5"/>
<text text-anchor="start" x="219.70" y="-1488.5" font-family="DejaVu Sans,Liberation Sans,sans-serif" font-size="9.75">ns3::NoBackhaulEpcHelper</text>
<text text-anchor="middle" x="285.25" y="-1477.5" font-family="DejaVu Sans,Liberation Sans,sans-serif" font-size="9.75">::AddX2Interface</text>
</g>
<g id="edge21" class="edge">
<path fill="none" stroke="midnightblue" d="M508.40,-2039.82C497.25,-1941.87 452.55,-1590.65 377.97,-1510.62 372.84,-1505.27 366.71,-1501.03 360.08,-1497.68"/>
<polygon fill="midnightblue" stroke="midnightblue" points="504.94,-2040.32 509.54,-2049.86 511.88,-2039.53 504.94,-2040.32"/>
</g>
<g id="node21" class="node">
<polygon fill="white" stroke="red" points="194.00,-1432 194.00,-1451 377.97,-1451 377.97,-1432 194.00,-1432"/>
<text text-anchor="middle" x="285.25" y="-1439" font-family="DejaVu Sans,Liberation Sans,sans-serif" font-size="9.75">RoutingHelper::AssignIpAddresses</text>
</g>
<g id="edge22" class="edge">
<path fill="none" stroke="midnightblue" d="M509.07,-2039.81C500.00,-1936.38 460.84,-1547.95 377.97,-1461.58 373.74,-1457.32 368.83,-1453.87 363.54,-1451.10"/>
<polygon fill="midnightblue" stroke="midnightblue" points="505.60,-2040.19 509.94,-2049.85 512.55,-2039.58 505.60,-2040.19"/>
</g>
<g id="node22" class="node">
<polygon fill="white" stroke="black" points="207.00,-1382.5 207.00,-1412.5 365.00,-1412.5 365.00,-1382.5 207.00,-1382.5"/>
<text text-anchor="start" x="214.70" y="-1400.5" font-family="DejaVu Sans,Liberation Sans,sans-serif" font-size="9.75">ns3::PointToPointDumbbell</text>
<text text-anchor="middle" x="285.25" y="-1389.5" font-family="DejaVu Sans,Liberation Sans,sans-serif" font-size="9.75">Helper::AssignIpv4Addresses</text>
</g>
<g id="edge23" class="edge">
<path fill="none" stroke="midnightblue" d="M509.30,-2039.68C500.94,-1932.28 463.49,-1517.48 377.97,-1422.56 374.27,-1418.59 370.02,-1415.24 365.42,-1412.40"/>
<polygon fill="midnightblue" stroke="midnightblue" points="505.83,-2040.11 510.08,-2049.81 512.79,-2039.57 505.83,-2040.11"/>
</g>
<g id="edge24" class="edge">
<path fill="none" stroke="midnightblue" d="M508.95,-2039.80C498.65,-1926.24 452.73,-1464.12 377.97,-1340.33 363.52,-1316.70 337.93,-1298.27 317.57,-1286.54"/>
<polygon fill="midnightblue" stroke="midnightblue" points="505.49,-2040.23 509.86,-2049.88 512.44,-2039.60 505.49,-2040.23"/>
</g>
<g id="node24" class="node">
<polygon fill="white" stroke="red" points="212.00,-1929.55 212.00,-1959.55 360.00,-1959.55 360.00,-1929.55 212.00,-1929.55"/>
<text text-anchor="start" x="219.70" y="-1947.55" font-family="DejaVu Sans,Liberation Sans,sans-serif" font-size="9.75">ns3::NoBackhaulEpcHelper</text>
<text text-anchor="middle" x="285.25" y="-1936.55" font-family="DejaVu Sans,Liberation Sans,sans-serif" font-size="9.75">::AssignUeIpv4Address</text>
</g>
<g id="edge25" class="edge">
<path fill="none" stroke="midnightblue" d="M481.52,-2043.86C455.24,-2023.07 415.34,-1994.28 377.97,-1975.11 365.92,-1969.18 352.52,-1963.94 339.78,-1959.60"/>
<polygon fill="midnightblue" stroke="midnightblue" points="479.69,-2046.84 489.88,-2049.63 483.65,-2041.08 479.69,-2046.84"/>
</g>
<g id="edge55" class="edge">
<path fill="none" stroke="midnightblue" d="M505.25,-2039.76C492.07,-1989.34 455.15,-1877.17 377.97,-1825.97 309.12,-1781.05 212.87,-1781.81 148.59,-1789.73"/>
<polygon fill="midnightblue" stroke="midnightblue" points="501.93,-2040.87 507.78,-2049.69 508.70,-2039.14 501.93,-2040.87"/>
</g>
<g id="edge56" class="edge">
<path fill="none" stroke="midnightblue" d="M507.60,-2039.53C494.73,-1951.12 447.68,-1660.42 377.97,-1601.82 345.32,-1574.64 234.97,-1571.58 158.14,-1573.95"/>
<polygon fill="midnightblue" stroke="midnightblue" points="504.15,-2040.04 509.04,-2049.44 511.07,-2039.04 504.15,-2040.04"/>
</g>
<g id="edge57" class="edge">
<path fill="none" stroke="midnightblue" d="M510.20,-2039.81C505.28,-1927.13 479.28,-1470.05 377.97,-1376.98 312.74,-1317.83 205.05,-1325.53 138.56,-1338.49"/>
<polygon fill="midnightblue" stroke="midnightblue" points="506.71,-2040.03 510.62,-2049.87 513.68,-2039.73 506.71,-2040.03"/>
</g>
<g id="node28" class="node">
<polygon fill="white" stroke="red" points="226.00,-2556.5 226.00,-2586.5 346.00,-2586.5 346.00,-2556.5 226.00,-2556.5"/>
<text text-anchor="start" x="233.70" y="-2574.5" font-family="DejaVu Sans,Liberation Sans,sans-serif" font-size="9.75">ns3::olsr::Bug780Test</text>
<text text-anchor="middle" x="285.25" y="-2563.5" font-family="DejaVu Sans,Liberation Sans,sans-serif" font-size="9.75">::CreateNodes</text>
</g>
<g id="edge32" class="edge">
<path fill="none" stroke="midnightblue" d="M507.67,-2090.09C494.64,-2179.39 446.05,-2482.99 377.97,-2547.83 369.29,-2556.30 357.89,-2561.81 346.10,-2565.42"/>
<polygon fill="midnightblue" stroke="midnightblue" points="511.15,-2090.54 509.09,-2080.15 504.23,-2089.56 511.15,-2090.54"/>
</g>
<g id="node29" class="node">
<polygon fill="white" stroke="red" points="214.50,-2507.5 214.50,-2537.5 357.50,-2537.5 357.50,-2507.5 214.50,-2507.5"/>
<text text-anchor="start" x="222.20" y="-2525.5" font-family="DejaVu Sans,Liberation Sans,sans-serif" font-size="9.75">ns3::olsr::HelloRegression</text>
<text text-anchor="middle" x="285.25" y="-2514.5" font-family="DejaVu Sans,Liberation Sans,sans-serif" font-size="9.75">Test::CreateNodes</text>
</g>
<g id="edge33" class="edge">
<path fill="none" stroke="midnightblue" d="M511.51,-2090.52C511.11,-2165.97 499.21,-2388.33 377.97,-2498.65 372.10,-2504.25 365.07,-2508.57 357.52,-2511.91"/>
<polygon fill="midnightblue" stroke="midnightblue" points="515.01,-2090.10 511.50,-2080.10 508.02,-2090.11 515.01,-2090.10"/>
</g>
<g id="node30" class="node">
<polygon fill="white" stroke="red" points="212.50,-2458.5 212.50,-2488.5 359.50,-2488.5 359.50,-2458.5 212.50,-2458.5"/>
<text text-anchor="start" x="220.20" y="-2476.5" font-family="DejaVu Sans,Liberation Sans,sans-serif" font-size="9.75">ns3::olsr::TcRegressionTest</text>
<text text-anchor="middle" x="285.25" y="-2465.5" font-family="DejaVu Sans,Liberation Sans,sans-serif" font-size="9.75">::CreateNodes</text>
</g>
<g id="edge34" class="edge">
<path fill="none" stroke="midnightblue" d="M510.43,-2090.03C506.97,-2159.08 487.51,-2353.14 377.97,-2449.62 372.60,-2454.57 366.31,-2458.53 359.60,-2461.68"/>
<polygon fill="midnightblue" stroke="midnightblue" points="513.92,-2090.15 510.86,-2080.01 506.93,-2089.85 513.92,-2090.15"/>
</g>
<g id="node31" class="node">
<polygon fill="white" stroke="black" points="220.00,-2409.5 220.00,-2439.5 352.00,-2439.5 352.00,-2409.5 220.00,-2409.5"/>
<text text-anchor="start" x="227.70" y="-2427.5" font-family="DejaVu Sans,Liberation Sans,sans-serif" font-size="9.75">BulkSendBasicTestCase</text>
<text text-anchor="middle" x="285.25" y="-2416.5" font-family="DejaVu Sans,Liberation Sans,sans-serif" font-size="9.75">::DoRun</text>
</g>
<g id="edge36" class="edge">
<path fill="none" stroke="midnightblue" d="M509.02,-2090.27C502.24,-2153.21 475.54,-2318.32 377.97,-2400.73 370.55,-2407.26 361.51,-2412.01 352.03,-2415.50"/>
<polygon fill="midnightblue" stroke="midnightblue" points="512.52,-2090.27 510.04,-2079.97 505.58,-2089.58 512.52,-2090.27"/>
</g>
<g id="node32" class="node">
<polygon fill="white" stroke="black" points="209.00,-2360.5 209.00,-2390.5 363.00,-2390.5 363.00,-2360.5 209.00,-2360.5"/>
<text text-anchor="start" x="216.70" y="-2378.5" font-family="DejaVu Sans,Liberation Sans,sans-serif" font-size="9.75">BulkSendSeqTsSizeTestCase</text>
<text text-anchor="middle" x="285.25" y="-2367.5" font-family="DejaVu Sans,Liberation Sans,sans-serif" font-size="9.75">::DoRun</text>
</g>
<g id="edge37" class="edge">
<path fill="none" stroke="midnightblue" d="M507.21,-2090.16C496.93,-2146.13 463.87,-2282.81 377.97,-2351.59 373.49,-2355.34 368.47,-2358.51 363.16,-2361.20"/>
<polygon fill="midnightblue" stroke="midnightblue" points="510.68,-2090.63 508.93,-2080.19 503.80,-2089.45 510.68,-2090.63"/>
</g>
<g id="node33" class="node">
<polygon fill="white" stroke="black" points="216.00,-2311.5 216.00,-2341.5 356.00,-2341.5 356.00,-2311.5 216.00,-2311.5"/>
<text text-anchor="start" x="223.70" y="-2329.5" font-family="DejaVu Sans,Liberation Sans,sans-serif" font-size="9.75">UdpClientServerTestCase</text>
<text text-anchor="middle" x="285.25" y="-2318.5" font-family="DejaVu Sans,Liberation Sans,sans-serif" font-size="9.75">::DoRun</text>
</g>
<g id="edge38" class="edge">
<path fill="none" stroke="midnightblue" d="M504.78,-2090.04C490.75,-2138.56 452.39,-2247.43 377.97,-2302.68 371.56,-2307.64 364.19,-2311.56 356.46,-2314.69"/>
<polygon fill="midnightblue" stroke="midnightblue" points="508.24,-2090.64 507.48,-2080.08 501.50,-2088.81 508.24,-2090.64"/>
</g>
<g id="node34" class="node">
<polygon fill="white" stroke="black" points="215.50,-2262.5 215.50,-2292.5 356.50,-2292.5 356.50,-2262.5 215.50,-2262.5"/>
<text text-anchor="start" x="223.20" y="-2280.5" font-family="DejaVu Sans,Liberation Sans,sans-serif" font-size="9.75">UdpTraceClientServerTest</text>
<text text-anchor="middle" x="285.25" y="-2269.5" font-family="DejaVu Sans,Liberation Sans,sans-serif" font-size="9.75">Case::DoRun</text>
</g>
<g id="edge39" class="edge">
<path fill="none" stroke="midnightblue" d="M501.48,-2089.40C483.60,-2129.43 441.35,-2211.34 377.97,-2253.68 371.58,-2258.12 364.40,-2261.73 356.93,-2264.70"/>
<polygon fill="midnightblue" stroke="midnightblue" points="504.79,-2090.53 505.40,-2079.95 498.34,-2087.84 504.79,-2090.53"/>
</g>
<g id="node35" class="node">
<polygon fill="white" stroke="black" points="217.50,-2213.5 217.50,-2243.5 354.50,-2243.5 354.50,-2213.5 217.50,-2213.5"/>
<text text-anchor="start" x="225.20" y="-2231.5" font-family="DejaVu Sans,Liberation Sans,sans-serif" font-size="9.75">UdpEchoClientSetFillTest</text>
<text text-anchor="middle" x="285.25" y="-2220.5" font-family="DejaVu Sans,Liberation Sans,sans-serif" font-size="9.75">Case::DoRun</text>
</g>
<g id="edge40" class="edge">
<path fill="none" stroke="midnightblue" d="M496.31,-2088.68C474.46,-2119.25 430.52,-2174.80 377.97,-2204.72 370.86,-2208.95 362.99,-2212.43 354.92,-2215.32"/>
<polygon fill="midnightblue" stroke="midnightblue" points="499.35,-2090.41 501.88,-2080.12 493.51,-2086.59 499.35,-2090.41"/>
</g>
<g id="node36" class="node">
<polygon fill="white" stroke="black" points="218.50,-2164.5 218.50,-2194.5 353.50,-2194.5 353.50,-2164.5 218.50,-2164.5"/>
<text text-anchor="start" x="226.20" y="-2182.5" font-family="DejaVu Sans,Liberation Sans,sans-serif" font-size="9.75">IcmpEchoReplyTestCase</text>
<text text-anchor="middle" x="285.25" y="-2171.5" font-family="DejaVu Sans,Liberation Sans,sans-serif" font-size="9.75">::DoRun</text>
</g>
<g id="edge41" class="edge">
<path fill="none" stroke="midnightblue" d="M487.68,-2086.78C462.40,-2106.34 420.11,-2137.26 377.97,-2155.78 370.32,-2159.31 362.04,-2162.39 353.67,-2165.08"/>
<polygon fill="midnightblue" stroke="midnightblue" points="490.17,-2089.23 495.27,-2079.95 485.51,-2084.02 490.17,-2089.23"/>
</g>
<g id="node37" class="node">
<polygon fill="white" stroke="black" points="227.50,-2115.5 227.50,-2145.5 344.50,-2145.5 344.50,-2115.5 227.50,-2115.5"/>
<text text-anchor="start" x="235.20" y="-2133.5" font-family="DejaVu Sans,Liberation Sans,sans-serif" font-size="9.75">ns3::EmuEpcHelper::</text>
<text text-anchor="middle" x="285.25" y="-2122.5" font-family="DejaVu Sans,Liberation Sans,sans-serif" font-size="9.75">EmuEpcHelper</text>
</g>
<g id="edge42" class="edge">
<path fill="none" stroke="midnightblue" d="M464.80,-2083.61C439.38,-2090.36 407.18,-2099.46 377.97,-2107.15 367.25,-2110.22 355.69,-2113.31 344.53,-2116.26"/>
<polygon fill="midnightblue" stroke="midnightblue" points="466.19,-2086.83 474.20,-2079.92 463.63,-2080.32 466.19,-2086.83"/>
</g>
<g id="node38" class="node">
<polygon fill="white" stroke="black" points="223.50,-2027.42 223.50,-2057.43 348.50,-2057.43 348.50,-2027.42 223.50,-2027.42"/>
<text text-anchor="start" x="231.20" y="-2045.42" font-family="DejaVu Sans,Liberation Sans,sans-serif" font-size="9.75">Ipv4DeduplicationTest</text>
<text text-anchor="middle" x="285.25" y="-2034.42" font-family="DejaVu Sans,Liberation Sans,sans-serif" font-size="9.75">::DoRun</text>
</g>
<g id="edge43" class="edge">
<path fill="none" stroke="midnightblue" d="M436.10,-2056.86C414.73,-2055.50 379.96,-2052.50 348.50,-2049.50"/>
<polygon fill="midnightblue" stroke="midnightblue" points="435.79,-2060.34 446.07,-2057.93 436.52,-2053.38 435.79,-2060.34"/>
</g>
<g id="node39" class="node">
<polygon fill="white" stroke="black" points="202.50,-1978.50 202.50,-2008.50 369.49,-2008.50 369.49,-1978.50 202.50,-1978.50"/>
<text text-anchor="start" x="210.20" y="-1996.50" font-family="DejaVu Sans,Liberation Sans,sans-serif" font-size="9.75">Ipv4DeduplicationPerformance</text>
<text text-anchor="middle" x="285.25" y="-1985.50" font-family="DejaVu Sans,Liberation Sans,sans-serif" font-size="9.75">Test::DoRun</text>
</g>
<g id="edge44" class="edge">
<path fill="none" stroke="midnightblue" d="M464.36,-2046.26C429.85,-2036.00 387.94,-2021.00 344.60,-2008.50"/>
<polygon fill="midnightblue" stroke="midnightblue" points="463.15,-2049.55 473.72,-2049.85 465.65,-2043.01 463.15,-2049.55"/>
</g>
<g id="node40" class="node">
<polygon fill="white" stroke="black" points="211.00,-1880.45 211.00,-1910.45 361.00,-1910.45 361.00,-1880.45 211.00,-1880.45"/>
<text text-anchor="start" x="218.70" y="-1898.45" font-family="DejaVu Sans,Liberation Sans,sans-serif" font-size="9.75">Ipv4DynamicGlobalRouting</text>
<text text-anchor="middle" x="285.25" y="-1887.45" font-family="DejaVu Sans,Liberation Sans,sans-serif" font-size="9.75">TestCase::DoRun</text>
</g>
<g id="edge45" class="edge">
<path fill="none" stroke="midnightblue" d="M494.46,-2041.35C471.60,-2008.31 427.69,-1952.02 377.97,-1920.69 371.48,-1916.77 364.40,-1913.45 357.12,-1910.66"/>
<polygon fill="midnightblue" stroke="midnightblue" points="491.86,-2043.72 500.60,-2049.69 497.49,-2039.56 491.86,-2043.72"/>
</g>
<g id="node41" class="node">
<polygon fill="white" stroke="black" points="213.50,-1831.5 213.50,-1861.5 358.50,-1861.5 358.50,-1831.5 213.50,-1831.5"/>
<text text-anchor="start" x="221.20" y="-1849.5" font-family="DejaVu Sans,Liberation Sans,sans-serif" font-size="9.75">Ipv4GlobalRoutingSlash32</text>
<text text-anchor="middle" x="285.25" y="-1838.5" font-family="DejaVu Sans,Liberation Sans,sans-serif" font-size="9.75">TestCase::DoRun</text>
</g>
<g id="edge46" class="edge">
<path fill="none" stroke="midnightblue" d="M500.34,-2040.53C481.40,-1998.62 438.41,-1916.23 377.97,-1871.66 372.06,-1867.46 365.50,-1863.97 358.68,-1861.08"/>
<polygon fill="midnightblue" stroke="midnightblue" points="497.26,-2042.18 504.64,-2049.77 503.59,-2039.23 497.26,-2042.18"/>
</g>
<g id="node42" class="node">
<polygon fill="white" stroke="black" points="230.50,-1755 230.50,-1774 341.50,-1774 341.50,-1755 230.50,-1755"/>
<text text-anchor="middle" x="285.25" y="-1762" font-family="DejaVu Sans,Liberation Sans,sans-serif" font-size="9.75">Ipv4RipTest::DoRun</text>
</g>
<g id="edge47" class="edge">
<path fill="none" stroke="midnightblue" d="M505.99,-2039.76C493.68,-1985.29 457.56,-1857.61 377.97,-1788.91 367.60,-1780.25 354.54,-1774.59 341.57,-1770.97"/>
<polygon fill="midnightblue" stroke="midnightblue" points="502.62,-2040.71 508.20,-2049.71 509.44,-2039.19 502.62,-2040.71"/>
</g>
<g id="node43" class="node">
<polygon fill="white" stroke="black" points="213.00,-1705.5 213.00,-1735.5 359.00,-1735.5 359.00,-1705.5 213.00,-1705.5"/>
<text text-anchor="start" x="220.70" y="-1723.5" font-family="DejaVu Sans,Liberation Sans,sans-serif" font-size="9.75">Ipv4RipCountToInfinityTest</text>
<text text-anchor="middle" x="285.25" y="-1712.5" font-family="DejaVu Sans,Liberation Sans,sans-serif" font-size="9.75">::DoRun</text>
</g>
<g id="edge48" class="edge">
<path fill="none" stroke="midnightblue" d="M507.79,-2039.57C498.54,-1979.32 467.22,-1827.88 377.97,-1745.63 372.42,-1740.73 366.01,-1736.76 359.22,-1733.58"/>
<polygon fill="midnightblue" stroke="midnightblue" points="504.35,-2040.18 509.27,-2049.56 511.27,-2039.15 504.35,-2040.18"/>
</g>
<g id="node44" class="node">
<polygon fill="white" stroke="black" points="209.00,-1656.5 209.00,-1686.5 363.00,-1686.5 363.00,-1656.5 209.00,-1656.5"/>
<text text-anchor="start" x="216.70" y="-1674.5" font-family="DejaVu Sans,Liberation Sans,sans-serif" font-size="9.75">Ipv4RipSplitHorizonStrategy</text>
<text text-anchor="middle" x="285.25" y="-1663.5" font-family="DejaVu Sans,Liberation Sans,sans-serif" font-size="9.75">Test::DoRun</text>
</g>
<g id="edge49" class="edge">
<path fill="none" stroke="midnightblue" d="M509.43,-2039.31C503.57,-1972.92 478.78,-1794.36 377.97,-1696.59 373.51,-1692.44 368.44,-1688.98 363.04,-1686.09"/>
<polygon fill="midnightblue" stroke="midnightblue" points="505.98,-2039.89 510.27,-2049.57 512.94,-2039.32 505.98,-2039.89"/>
</g>
<g id="edge19" class="edge">
<path fill="none" stroke="midnightblue" d="M201.04,-2668.51C184.43,-2670.29 167.14,-2672.15 151.01,-2673.88"/>
<polygon fill="midnightblue" stroke="midnightblue" points="201.71,-2671.96 211.28,-2667.41 200.96,-2665 201.71,-2671.96"/>
</g>
<g id="edge20" class="edge">
<path fill="none" stroke="midnightblue" d="M201.25,-2647.24C182.46,-2644.49 162.80,-2641.62 144.92,-2639"/>
<polygon fill="midnightblue" stroke="midnightblue" points="200.88,-2650.73 211.28,-2648.71 201.89,-2643.8 200.88,-2650.73"/>
</g>
<g id="edge26" class="edge">
<path fill="none" stroke="midnightblue" d="M209.45,-1963.70C177.50,-1976.22 145.70,-1988.75 113.75,-2000.22"/>
<polygon fill="midnightblue" stroke="midnightblue" points="208.17,-1960.47 218.75,-1960.03 210.73,-1966.93 208.17,-1960.47"/>
</g>
<g id="edge27" class="edge">
<path fill="none" stroke="midnightblue" d="M203.25,-1960.65C199.83,-1963.22 196.71,-1966.17 194.00,-1969.55 92.65,-2095.90 250.79,-2515.74 158.00,-2648.50 150.25,-2659.59 138.00,-2666.97 125.48,-2671.87"/>
<polygon fill="midnightblue" stroke="midnightblue" points="205.12,-1963.61 211.71,-1955.32 201.38,-1957.69 205.12,-1963.61"/>
</g>
<g id="edge28" class="edge">
<path fill="none" stroke="midnightblue" d="M203.18,-1961.39C199.84,-1963.77 196.75,-1966.48 194.00,-1969.55 95.57,-2079.30 81.71,-2542.32 80.17,-2619.70"/>
<polygon fill="midnightblue" stroke="midnightblue" points="205.18,-1964.27 211.92,-1956.09 201.55,-1958.28 205.18,-1964.27"/>
</g>
<g id="edge29" class="edge">
<path fill="none" stroke="midnightblue" d="M208.82,-1926.22C203.75,-1924.46 198.77,-1922.57 194.00,-1920.55 159.50,-1887.77 123.01,-1844.89 100.87,-1817.66"/>
<polygon fill="midnightblue" stroke="midnightblue" points="208.05,-1929.65 218.64,-1929.44 210.23,-1923.00 208.05,-1929.65"/>
</g>
<g id="edge30" class="edge">
<path fill="none" stroke="midnightblue" d="M202.69,-1927.10C199.62,-1925.14 196.70,-1922.96 194.00,-1920.55 160.96,-1891.00 176.20,-1818.91 158.00,-1778.50 135.10,-1716.65 103.50,-1620.61 88.53,-1593.70"/>
<polygon fill="midnightblue" stroke="midnightblue" points="201.27,-1930.32 211.72,-1932.08 204.65,-1924.19 201.27,-1930.32"/>
</g>
<g id="edge31" class="edge">
<path fill="none" stroke="midnightblue" d="M203.08,-1927.75C199.77,-1925.34 196.71,-1922.60 194.00,-1919.50 154.60,-1874.42 172.93,-1612.48 158.00,-1554.50 139.51,-1482.73 102.96,-1401.74 87.35,-1368.73"/>
<polygon fill="midnightblue" stroke="midnightblue" points="201.42,-1930.83 211.77,-1933.09 205.08,-1924.87 201.42,-1930.83"/>
</g>
<g id="edge64" class="edge">
<path fill="none" stroke="midnightblue" d="M220.82,-1045.61C192.97,-1042.62 160.69,-1039.16 134.08,-1036.3"/>
<polygon fill="midnightblue" stroke="midnightblue" points="220.55,-1049.1 230.87,-1046.69 221.30,-1042.14 220.55,-1049.1"/>
</g>
<g id="edge82" class="edge">
<path fill="none" stroke="midnightblue" d="M412.57,-1073.77C388.05,-1069.61 362.67,-1065.31 341.16,-1061.67"/>
<polygon fill="midnightblue" stroke="midnightblue" points="412.22,-1077.26 422.64,-1075.48 413.39,-1070.36 412.22,-1077.26"/>
</g>
<g id="edge83" class="edge">
<path fill="none" stroke="midnightblue" d="M547.99,-1115.96C543.55,-1120.68 531.60,-1124 512.16,-1124 480.28,-1124 468.57,-1115.06 477.04,-1105.66"/>
<polygon fill="midnightblue" stroke="midnightblue" points="551.46,-1115.4 547.30,-1105.66 544.49,-1115.87 551.46,-1115.4"/>
</g>
<g id="edge88" class="edge">
<path fill="none" stroke="midnightblue" d="M440.50,-3191.04C413.51,-3185.14 382.79,-3178.42 355.96,-3172.55"/>
<polygon fill="midnightblue" stroke="midnightblue" points="439.76,-3194.46 450.25,-3193.18 441.25,-3187.62 439.76,-3194.46"/>
</g>
<g id="edge97" class="edge">
<path fill="none" stroke="midnightblue" d="M435.13,-516.03C408.49,-513.42 378.82,-510.5 353.06,-507.97"/>
<polygon fill="midnightblue" stroke="midnightblue" points="434.90,-519.53 445.17,-517.02 435.59,-512.56 434.90,-519.53"/>
</g>
</g>
</svg>

</body></html>
